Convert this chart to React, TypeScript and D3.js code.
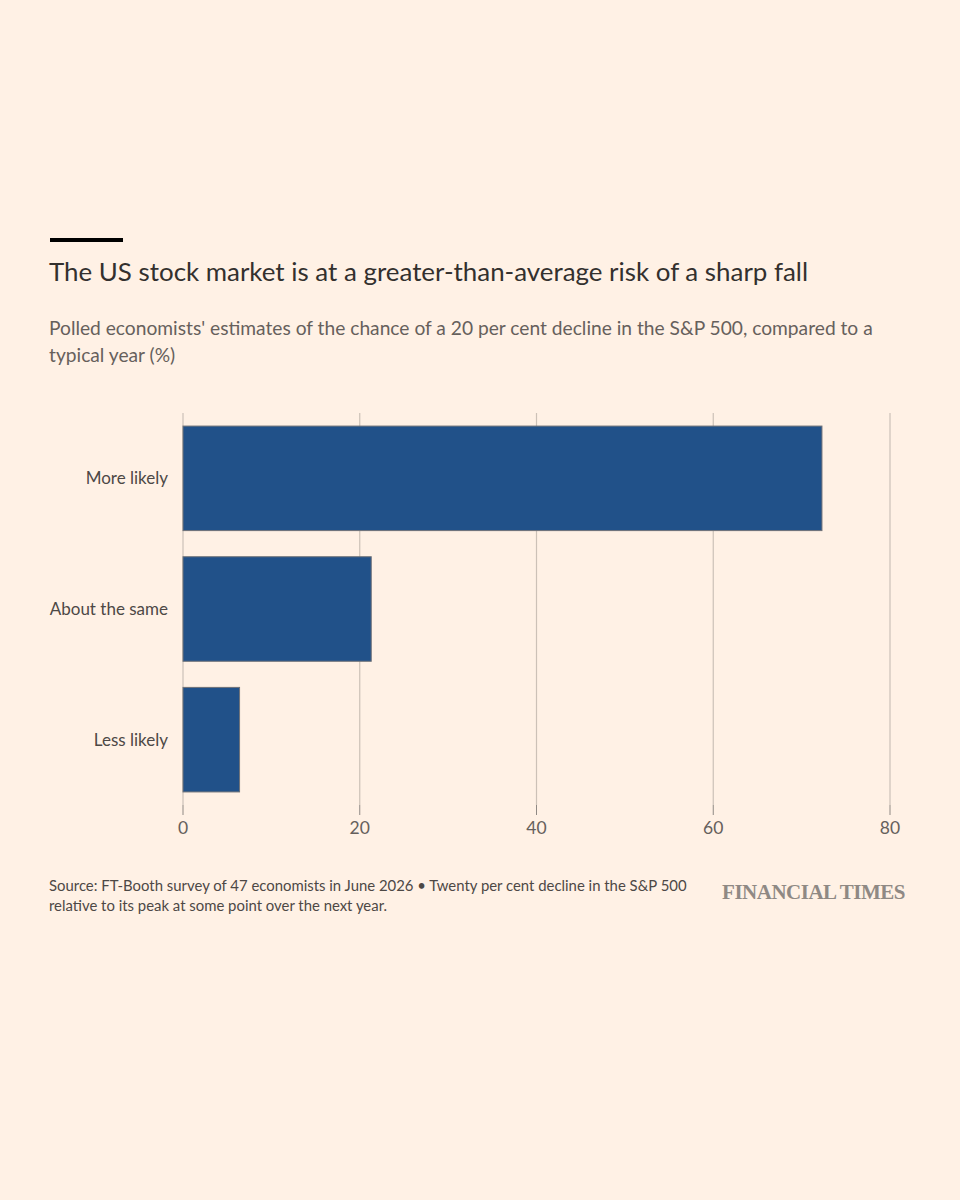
import { FC, useRef, useEffect } from 'react'
import * as d3 from 'd3'

const categories = ['More likely', 'About the same', 'Less likely']
const shares = [72.3, 21.3, 6.4]
const xTicks = [0, 20, 40, 60, 80]

const title = 'The US stock market is at a greater-than-average risk of a sharp fall'
const subtitleLines = [
  "Polled economists' estimates of the chance of a 20 per cent decline in the S&P 500, compared to a",
  'typical year (%)',
]
const footerLines = [
  'Source: FT-Booth survey of 47 economists in June 2026 \u2022 Twenty per cent decline in the S&P 500',
  'relative to its peak at some point over the next year.',
]

const FONT = 'Lato, "Noto Sans", sans-serif'

const App: FC = () => {
  const svgRef = useRef<SVGSVGElement>(null)

  useEffect(() => {
    if (!svgRef.current) return
    document.body.style.margin = '0'

    const width = 960
    const height = 1200
    const svg = d3.select(svgRef.current)
    svg.selectAll('*').remove()
    svg.attr('width', width).attr('height', height)

    svg.append('rect').attr('width', width).attr('height', height).attr('fill', '#fff1e5')

    // header
    svg.append('rect').attr('x', 50).attr('y', 238).attr('width', 73).attr('height', 4).attr('fill', '#000')

    svg.append('text')
      .attr('x', 49).attr('y', 281)
      .attr('font-family', FONT).attr('font-size', '25.9px')
      .attr('fill', '#33302e')
      .text(title)

    svg.append('g').selectAll('text')
      .data(subtitleLines)
      .join('text')
      .attr('x', 49).attr('y', (_, i) => 335 + i * 27)
      .attr('font-family', FONT).attr('font-size', '19.2px')
      .attr('fill', '#66605c')
      .text(d => d)

    // chart
    const x = d3.scaleLinear().domain([0, 80]).range([183, 890])
    const y = d3.scaleBand<string>().domain(categories).range([413, 805]).paddingInner(0.2).paddingOuter(0.1)

    const grid = svg.append('g')
    grid.selectAll('line.grid')
      .data(xTicks)
      .join('line')
      .attr('class', 'grid')
      .attr('x1', d => x(d)).attr('x2', d => x(d))
      .attr('y1', 413).attr('y2', 805)
      .attr('stroke', '#ccc1b7').attr('stroke-width', 1.2)
    grid.selectAll('line.tick')
      .data(xTicks)
      .join('line')
      .attr('class', 'tick')
      .attr('x1', d => x(d)).attr('x2', d => x(d))
      .attr('y1', 805).attr('y2', 815)
      .attr('stroke', '#8f8984').attr('stroke-width', 1)
    grid.selectAll('text')
      .data(xTicks)
      .join('text')
      .attr('x', d => x(d)).attr('y', 834)
      .attr('text-anchor', 'middle')
      .attr('font-family', FONT).attr('font-size', '17.5px')
      .attr('fill', '#66605c')
      .text(d => d)

    svg.append('g').selectAll('rect')
      .data(categories)
      .join('rect')
      .attr('x', x(0))
      .attr('y', d => y(d)!)
      .attr('width', (_, i) => x(shares[i]) - x(0))
      .attr('height', y.bandwidth())
      .attr('fill', '#215189')
      .attr('stroke', '#6f7278').attr('stroke-width', 1)

    svg.append('g').selectAll('text')
      .data(categories)
      .join('text')
      .attr('x', 168)
      .attr('y', d => y(d)! + y.bandwidth() / 2)
      .attr('dy', '0.35em')
      .attr('text-anchor', 'end')
      .attr('font-family', FONT).attr('font-size', '17px')
      .attr('fill', '#4d4845')
      .text(d => d)

    // footer
    svg.append('g').selectAll('text')
      .data(footerLines)
      .join('text')
      .attr('x', 49).attr('y', (_, i) => 891 + i * 20)
      .attr('font-family', FONT).attr('font-size', '14.9px')
      .attr('fill', '#4d4845')
      .text(d => d)

    svg.append('text')
      .attr('x', 905).attr('y', 899)
      .attr('text-anchor', 'end')
      .attr('font-family', '"Liberation Serif", "DejaVu Serif", serif')
      .attr('font-size', '21px').attr('font-weight', 'bold')
      .attr('letter-spacing', '-0.5px')
      .attr('fill', '#8f8984')
      .text('FINANCIAL TIMES')
  }, [])

  return (
    <div style={{ position: 'absolute', left: 0, top: 0 }}>
      <svg ref={svgRef} style={{ display: 'block' }} />
    </div>
  )
}

export default App
